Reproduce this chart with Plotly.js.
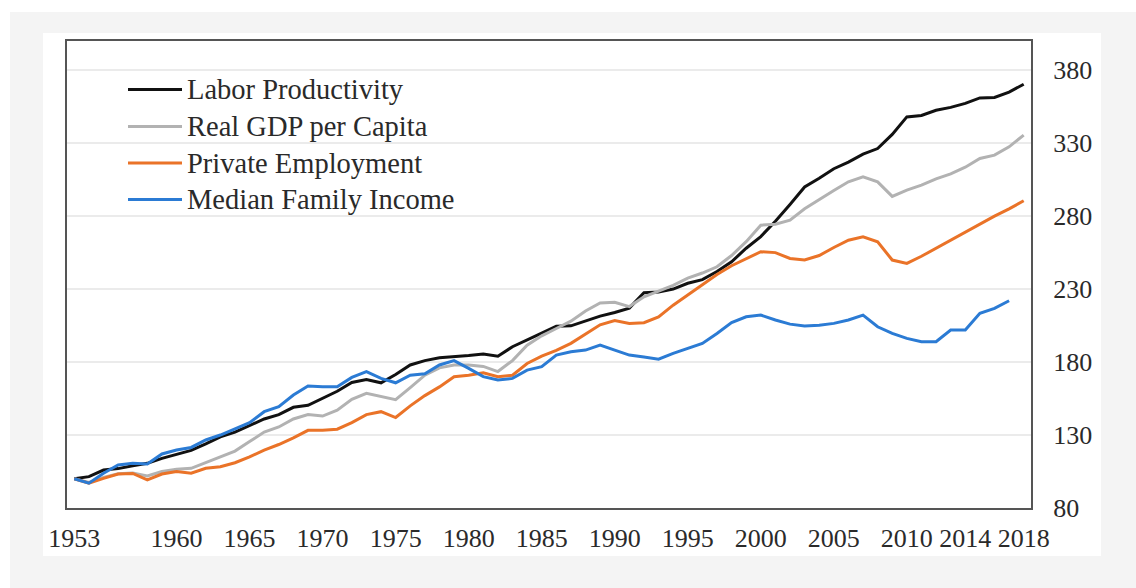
<!DOCTYPE html>
<html>
<head>
<meta charset="utf-8">
<script src="https://cdn.plot.ly/plotly-3.0.1.min.js"></script>
<style>
    html, body { margin: 0; padding: 0; background: #ffffff; }
    #grafico { width: 1136px; height: 588px; }
</style>
</head>
<body>
<div id="grafico"></div>
<script>
const years = [
    1953, 1954, 1955, 1956, 1957, 1958, 1959, 1960, 1961, 1962,
    1963, 1964, 1965, 1966, 1967, 1968, 1969, 1970, 1971, 1972,
    1973, 1974, 1975, 1976, 1977, 1978, 1979, 1980, 1981, 1982,
    1983, 1984, 1985, 1986, 1987, 1988, 1989, 1990, 1991, 1992,
    1993, 1994, 1995, 1996, 1997, 1998, 1999, 2000, 2001, 2002,
    2003, 2004, 2005, 2006, 2007, 2008, 2009, 2010, 2011, 2012,
    2013, 2014, 2015, 2016, 2017, 2018
];

const productivity = [
    100, 101.5, 106, 107, 109, 110.6, 114, 117, 119.5, 124,
    128.8, 132, 136.5, 141, 144, 149, 150.4, 155, 160, 166,
    168, 165.8, 171.5, 178, 181, 183, 183.6, 184.5, 185.5, 184,
    190.5, 195, 199.5, 204.5, 204.8, 208, 211.5, 214, 217, 227.5,
    228, 230, 234, 236.5, 242, 248.7, 258, 266, 276.5, 288,
    300, 306, 312.5, 317, 322.5, 326.3, 336, 348, 349, 352.5,
    354.5, 357.3, 361, 361.3, 365, 370.4
];

const gdpPerCapita = [
    100, 97.5, 101, 103.5, 104, 102, 105, 106.5, 107.2, 111,
    115, 119, 125.5, 132, 135.5, 141, 144, 143, 147, 154.5,
    158.6, 156.5, 154.2, 162.5, 171, 176, 178, 178, 177, 173.5,
    181, 191.5, 198, 203, 208, 215, 220.5, 221, 218, 224.7,
    228.5, 232.5, 237.5, 241, 245.3, 253, 262.5, 273.8, 274.5, 277.3,
    285, 291.5, 297.5, 303.5, 307, 303.5, 293.5, 297.8, 301.2, 305.5,
    309, 313.5, 319.5, 321.8, 327.5, 335.5
];

const employment = [
    100, 97, 100.3, 103.3, 103.7, 99.2, 103.3, 105, 103.8, 107.2,
    108.3, 111, 115, 119.7, 123.5, 128, 133.2, 133.2, 134, 138.5,
    144, 146, 142, 150, 157, 163, 170, 171, 172.7, 170,
    171, 179, 184, 188, 192.8, 199, 205.5, 208.5, 206.5, 207,
    211, 219, 226, 233, 240, 246, 251, 255.6, 255, 251,
    250, 253, 258.5, 263.5, 265.8, 262.4, 249.9, 247.6, 252.5, 258,
    263.5, 269, 275, 280, 285, 290.5
];

// median family income stops at 2017
const familyIncome = [
    100, 97, 103.8, 109.5, 110.6, 110.1, 117, 119.7, 121.5, 126.6,
    130, 134, 138.5, 146, 149.4, 157.4, 163.6, 163.1, 163, 169.5,
    173.4, 168.8, 165.8, 171, 172, 178, 181, 175.7, 170, 167.7,
    168.8, 174.5, 176.8, 184.8, 187, 188.2, 191.6, 188.2, 184.8, 183.5,
    182, 186, 189.4, 192.8, 199.6, 207, 211, 212.2, 208.8, 206,
    204.7, 205.3, 206.5, 208.8, 212.2, 204.2, 199.6, 196.2, 193.9, 193.9,
    201.9, 201.9, 213.4, 216.8, 222
];

const seriesNames = ['Labor Productivity', 'Real GDP per Capita', 'Private Employment', 'Median Family Income'];
const seriesColors = ['#111111', '#b2b2b2', '#ea7328', '#2b7bd4'];
const seriesValues = [productivity, gdpPerCapita, employment, familyIncome];

const xTicks = [1953, 1960, 1965, 1970, 1975, 1980, 1985, 1990, 1995, 2000, 2005, 2010, 2014, 2018];
const yTicks = [80, 130, 180, 230, 280, 330, 380];

const fuente = '"Liberation Serif", "Times New Roman", serif';
const colorTexto = '#2a2a2a';

// plot area in pixels: x 67..1031, y 41..508
function px(x) { return (x - 67) / 964; }
function py(y) { return (508 - y) / 467; }

function armarTrazas() {
    return seriesValues.map((vals, i) => ({
        x: years.slice(0, vals.length),
        y: vals,
        name: seriesNames[i],
        type: 'scatter',
        mode: 'lines',
        line: { color: seriesColors[i], width: 3 },
        showlegend: false
    }));
}

function armarLeyenda() {
    const filas = [89.5, 126.5, 163, 199.5];
    const shapes = [];
    const annotations = [];
    filas.forEach((fila, i) => {
        shapes.push({
            type: 'line', xref: 'paper', yref: 'paper',
            x0: px(128), x1: px(182), y0: py(fila), y1: py(fila),
            line: { color: seriesColors[i], width: 3 }
        });
        annotations.push({
            xref: 'paper', yref: 'paper',
            x: px(185), y: py(fila),
            xanchor: 'left', yanchor: 'middle',
            text: seriesNames[i], showarrow: false,
            font: { family: fuente, size: 28.5, color: colorTexto }
        });
    });
    return { shapes, annotations };
}

const leyenda = armarLeyenda();

const fondo = [
    // grey page behind the white card
    {
        type: 'rect', xref: 'paper', yref: 'paper', layer: 'below',
        x0: px(10), x1: px(1140), y0: py(592), y1: py(12),
        fillcolor: '#f4f4f4', line: { width: 0 }
    },
    {
        type: 'rect', xref: 'paper', yref: 'paper', layer: 'below',
        x0: px(43), x1: px(1101), y0: py(556), y1: py(33),
        fillcolor: '#ffffff', line: { width: 0 }
    }
];

const layout = {
    width: 1136,
    height: 588,
    margin: { l: 67, r: 105, t: 41, b: 80 },
    paper_bgcolor: '#ffffff',
    plot_bgcolor: '#ffffff',
    showlegend: false,
    xaxis: {
        range: [1952.5, 2018.5],
        tickmode: 'array',
        tickvals: xTicks,
        ticktext: xTicks.map(String),
        showgrid: false,
        zeroline: false,
        showline: true,
        mirror: true,
        linecolor: '#555555',
        linewidth: 2,
        ticks: '',
        ticklabelstandoff: 6,
        tickfont: { family: fuente, size: 26, color: colorTexto }
    },
    yaxis: {
        side: 'right',
        range: [80, 400],
        tickmode: 'array',
        tickvals: yTicks,
        showgrid: true,
        gridcolor: '#ebebeb',
        gridwidth: 1.5,
        zeroline: false,
        showline: true,
        mirror: true,
        linecolor: '#555555',
        linewidth: 2,
        ticks: '',
        ticklabelstandoff: 15,
        tickfont: { family: fuente, size: 26, color: colorTexto }
    },
    shapes: fondo.concat(leyenda.shapes),
    annotations: leyenda.annotations
};

Plotly.newPlot('grafico', armarTrazas(), layout, { displayModeBar: false, staticPlot: true });
</script>
</body>
</html>
